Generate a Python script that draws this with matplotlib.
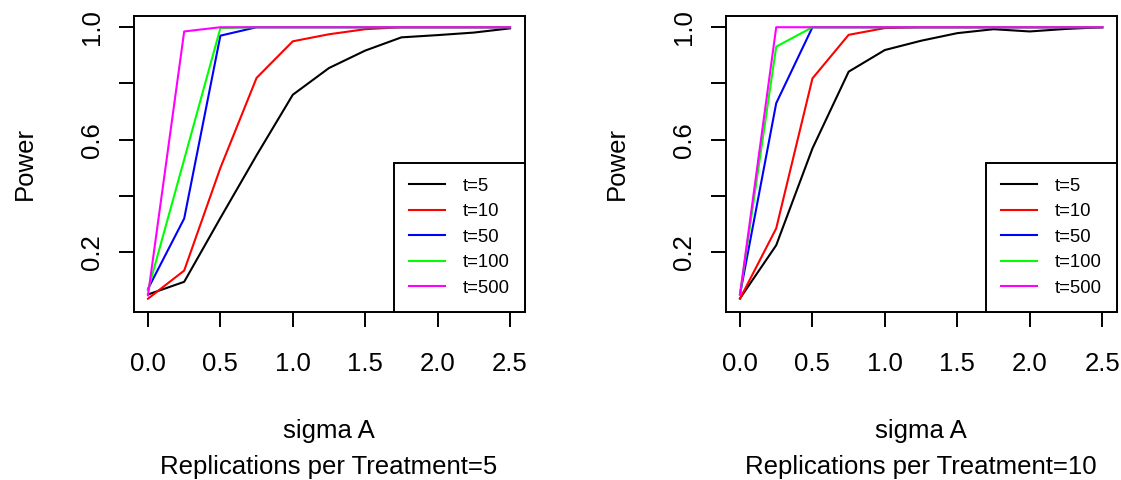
import matplotlib.pyplot as plt

plt.rcParams['font.family'] = ['Liberation Sans', 'DejaVu Sans']

# sigma A grid (x axis)
sigma = [0.0, 0.25, 0.5, 0.75, 1.0, 1.25, 1.5, 1.75, 2.0, 2.25, 2.5]

series_labels = ['t=5', 't=10', 't=50', 't=100', 't=500']
series_colors = ['black', '#FF0000', '#0000FF', '#00FF00', '#FF00FF']

# power, 5 replications per treatment
r5_t5 = [0.050, 0.095, 0.322, 0.545, 0.760, 0.855, 0.917, 0.964, 0.972, 0.981, 0.996]
r5_t10 = [0.035, 0.135, 0.500, 0.820, 0.950, 0.975, 0.993, 1.0, 1.0, 1.0, 1.0]
r5_t50 = [0.070, 0.320, 0.970, 1.0, 1.0, 1.0, 1.0, 1.0, 1.0, 1.0, 1.0]
r5_t100 = [0.065, 0.530, 0.997, 1.0, 1.0, 1.0, 1.0, 1.0, 1.0, 1.0, 1.0]
r5_t500 = [0.047, 0.985, 1.0, 1.0, 1.0, 1.0, 1.0, 1.0, 1.0, 1.0, 1.0]

# power, 10 replications per treatment
r10_t5 = [0.036, 0.225, 0.569, 0.842, 0.919, 0.952, 0.979, 0.993, 0.985, 0.994, 1.0]
r10_t10 = [0.035, 0.285, 0.818, 0.973, 0.997, 1.0, 1.0, 1.0, 1.0, 1.0, 1.0]
r10_t50 = [0.050, 0.730, 1.0, 1.0, 1.0, 1.0, 1.0, 1.0, 1.0, 1.0, 1.0]
r10_t100 = [0.050, 0.931, 1.0, 1.0, 1.0, 1.0, 1.0, 1.0, 1.0, 1.0, 1.0]
r10_t500 = [0.050, 1.0, 1.0, 1.0, 1.0, 1.0, 1.0, 1.0, 1.0, 1.0, 1.0]

x_ticks = [0.0, 0.5, 1.0, 1.5, 2.0, 2.5]
y_ticks = [0.2, 0.4, 0.6, 0.8, 1.0]
y_ticklabels = ['0.2', '', '0.6', '', '1.0']

W, H = 1121, 480
fig = plt.figure(figsize=(W / 100, H / 100), dpi=100)

panels = [
    (133.5, 524.5, [r5_t5, r5_t10, r5_t50, r5_t100, r5_t500], 'Replications per Treatment=5'),
    (725.5, 1116.7, [r10_t5, r10_t10, r10_t50, r10_t100, r10_t500], 'Replications per Treatment=10'),
]
top, bottom = 15.7, 311.5

for x0, x1, data, sub in panels:
    ax = fig.add_axes([x0 / W, 1 - bottom / H, (x1 - x0) / W, (bottom - top) / H])
    for vals, lab, col in zip(data, series_labels, series_colors):
        ax.plot(sigma, vals, color=col, lw=1.5, label=lab)
    ax.set_xlim(-0.1, 2.6)
    ax.set_ylim(-0.0105, 1.041)
    ax.set_xticks(x_ticks)
    ax.set_yticks(y_ticks)
    ax.set_yticklabels(y_ticklabels)
    ax.tick_params(direction='out', length=10.5, width=1.4, labelsize=18.5)
    ax.tick_params(axis='x', pad=19)
    ax.tick_params(axis='y', pad=10.5, labelrotation=90)
    for t in ax.get_yticklabels():
        t.set_va('center')
    for s in ax.spines.values():
        s.set_linewidth(1.4)

    leg = ax.legend(loc='lower right', borderaxespad=0, fontsize=13.3, fancybox=False,
                    edgecolor='black', framealpha=1, handlelength=1.93, handletextpad=0.98,
                    borderpad=0.8, labelspacing=0.46)
    leg.get_frame().set_linewidth(1.4)
    for line in leg.get_lines():
        line.set_linewidth(1.5)

    cx = (x0 + x1) / 2
    fig.text(cx / W, 1 - 438.3 / H, 'sigma A', ha='center', va='baseline', fontsize=18.5)
    fig.text(cx / W, 1 - 474 / H, sub, ha='center', va='baseline', fontsize=18.5)
    fig.text((x0 - 109) / W, 1 - (top + bottom) / 2 / H, 'Power', rotation=90,
             ha='center', va='center', fontsize=18.5)

fig.savefig('out.png', dpi=100)
